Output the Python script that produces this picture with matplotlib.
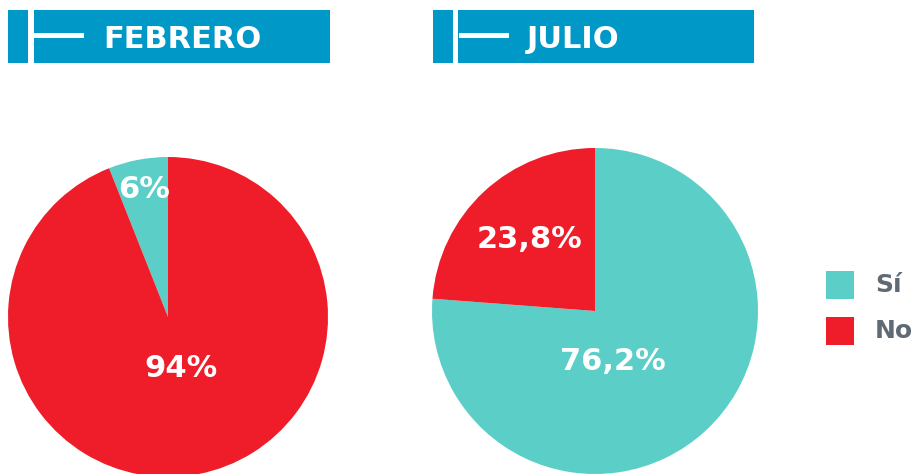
import numpy as np
import matplotlib
matplotlib.use("Agg")
import matplotlib.pyplot as plt
from matplotlib.patches import Rectangle

# ---- data ----
titles = ["FEBRERO", "JULIO"]
categories = ["Sí", "No"]
febrero_values = [6, 94]
julio_values = [76.2, 23.8]

BLUE = "#0099C7"
TEAL = "#5BCEC7"
RED = "#EE1D29"
GREY = "#5F6A74"
colors = [TEAL, RED]

W, H = 914, 474
fig = plt.figure(figsize=(W / 100, H / 100), dpi=100)
fig.patch.set_facecolor("white")


def fx(x):
    return x / W


def fy(y):
    return 1 - y / H


def rect(x0, y0, x1, y1, color):
    r = Rectangle((fx(x0), fy(y1)), (x1 - x0) / W, (y1 - y0) / H,
                  transform=fig.transFigure, facecolor=color,
                  edgecolor="none", linewidth=0)
    fig.add_artist(r)


def header(x0, x1, title, text_x):
    rect(x0, 10, x1, 63, BLUE)
    rect(x0 + 20, 10, x0 + 25.5, 63, "white")
    rect(x0 + 25.5, 33, x0 + 76, 38, "white")
    fig.text(fx(text_x), fy(37), title, color="white", fontsize=22,
             fontweight="bold", ha="left", va="center_baseline",
             family="DejaVu Sans")


header(8, 330, titles[0], 103)
header(433, 754, titles[1], 527)


def fmt(v):
    return f"{v:g}".replace(".", ",") + "%"


def pie(cx, cy, r, values, counterclock, dists, offsets):
    ax = fig.add_axes([fx(cx - r), fy(cy + r), 2 * r / W, 2 * r / H])
    wedges, _ = ax.pie(values, colors=colors, startangle=90,
                       counterclock=counterclock,
                       wedgeprops=dict(linewidth=0, edgecolor="none"))
    ax.set_xlim(-1, 1)
    ax.set_ylim(-1, 1)
    ax.axis("off")
    for w, v, d, off in zip(wedges, values, dists, offsets):
        mid = np.deg2rad((w.theta1 + w.theta2) / 2 + off)
        ax.text(d * np.cos(mid), d * np.sin(mid), fmt(v), color="white",
                fontsize=22, fontweight="bold", ha="center", va="center",
                family="DejaVu Sans")
    return ax


pie(168, 317, 160, febrero_values, True, [0.81, 0.33], [0, 4])
pie(595, 311, 163, julio_values, False, [0.33, 0.595], [-23, 0])

# legend
for i, (cat, col) in enumerate(zip(categories, colors)):
    y0 = 271 + i * 45.5
    rect(826, y0, 854, y0 + 28, col)
    fig.text(fx(875), fy(y0 + 14), cat, color=GREY, fontsize=18,
             fontweight="bold", ha="left", va="center",
             family="DejaVu Sans")

fig.savefig("out.png", dpi=100, facecolor="white")
